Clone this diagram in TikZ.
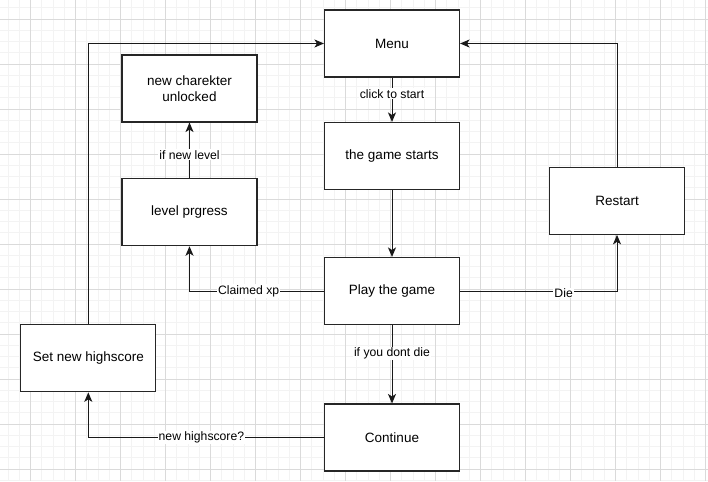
\documentclass[tikz,border=0pt]{standalone}
\usepackage{fontspec}
\setmainfont{Liberation Sans}
\usetikzlibrary{arrows.meta}
\definecolor{gridminor}{HTML}{F3F3F3}
\definecolor{gridmajor}{HTML}{DADADA}
\begin{document}
\begin{tikzpicture}[x=1pt,y=-1pt,
  box/.style={draw=black!85,line width=1.1pt,fill=white,rectangle,minimum width=135pt,minimum height=67pt,align=center,inner sep=2pt,font=\fontsize{13.5}{15.5}\selectfont},
  conn/.style={draw=black!90,line width=1pt,-{Stealth[length=9.5pt,width=8pt,inset=2.5pt]}},
  lbl/.style={fill=white,inner sep=1pt,font=\fontsize{12.2}{14}\selectfont}]
\fill[white] (0,0) rectangle (708,481);
\useasboundingbox (0,0) rectangle (708,481);
% grid
\foreach \i in {0,...,63} {
  \draw[gridminor,line width=0.8pt] ({8+11.25*\i},0) -- ({8+11.25*\i},481);
}
\foreach \i in {0,...,42} {
  \draw[gridminor,line width=0.8pt] (0,{7.75+11.25*\i}) -- (708,{7.75+11.25*\i});
}
\foreach \i in {0,...,15} {
  \draw[gridmajor,line width=0.9pt] ({30.5+45*\i},0) -- ({30.5+45*\i},481);
}
\foreach \i in {0,...,10} {
  \draw[gridmajor,line width=0.9pt] (0,{19+45*\i}) -- (708,{19+45*\i});
}
% nodes
\node[box] (menu) at (392,43.5) {Menu};
\node[box] (starts) at (392,156) {the game starts};
\node[box] (play) at (392,291) {Play the game};
\node[box] (cont) at (392,437.5) {Continue};
\node[box] (hs) at (88.3,358.3) {Set new highscore};
\node[box] (restart) at (617,200.8) {Restart};
\node[box] (unlock) at (189.5,88.5) {new charekter\\unlocked};
\node[box] (level) at (189.5,212.2) {level prgress};
% connectors
\draw[conn] (menu) -- node[lbl,pos=0.37] {click to start} (starts);
\draw[conn] (starts) -- (play);
\draw[conn] (play) -- node[lbl,pos=0.365] {if you dont die} (cont);
\draw[conn] (level) -- node[lbl,pos=0.42] {if new level} (unlock);
\draw[conn] (play.west) -| node[lbl,pos=0.28] {Claimed xp} (level.south);
\draw[conn] (play.east) -| node[lbl,pos=0.33,yshift=-2pt] {Die} (restart.south);
\draw[conn] (cont.west) -| node[lbl,pos=0.26] {new highscore?} (hs.south);
\draw[conn] (restart.north) |- (menu.east);
\draw[conn] (hs.north) |- (menu.west);
\end{tikzpicture}
\end{document}
